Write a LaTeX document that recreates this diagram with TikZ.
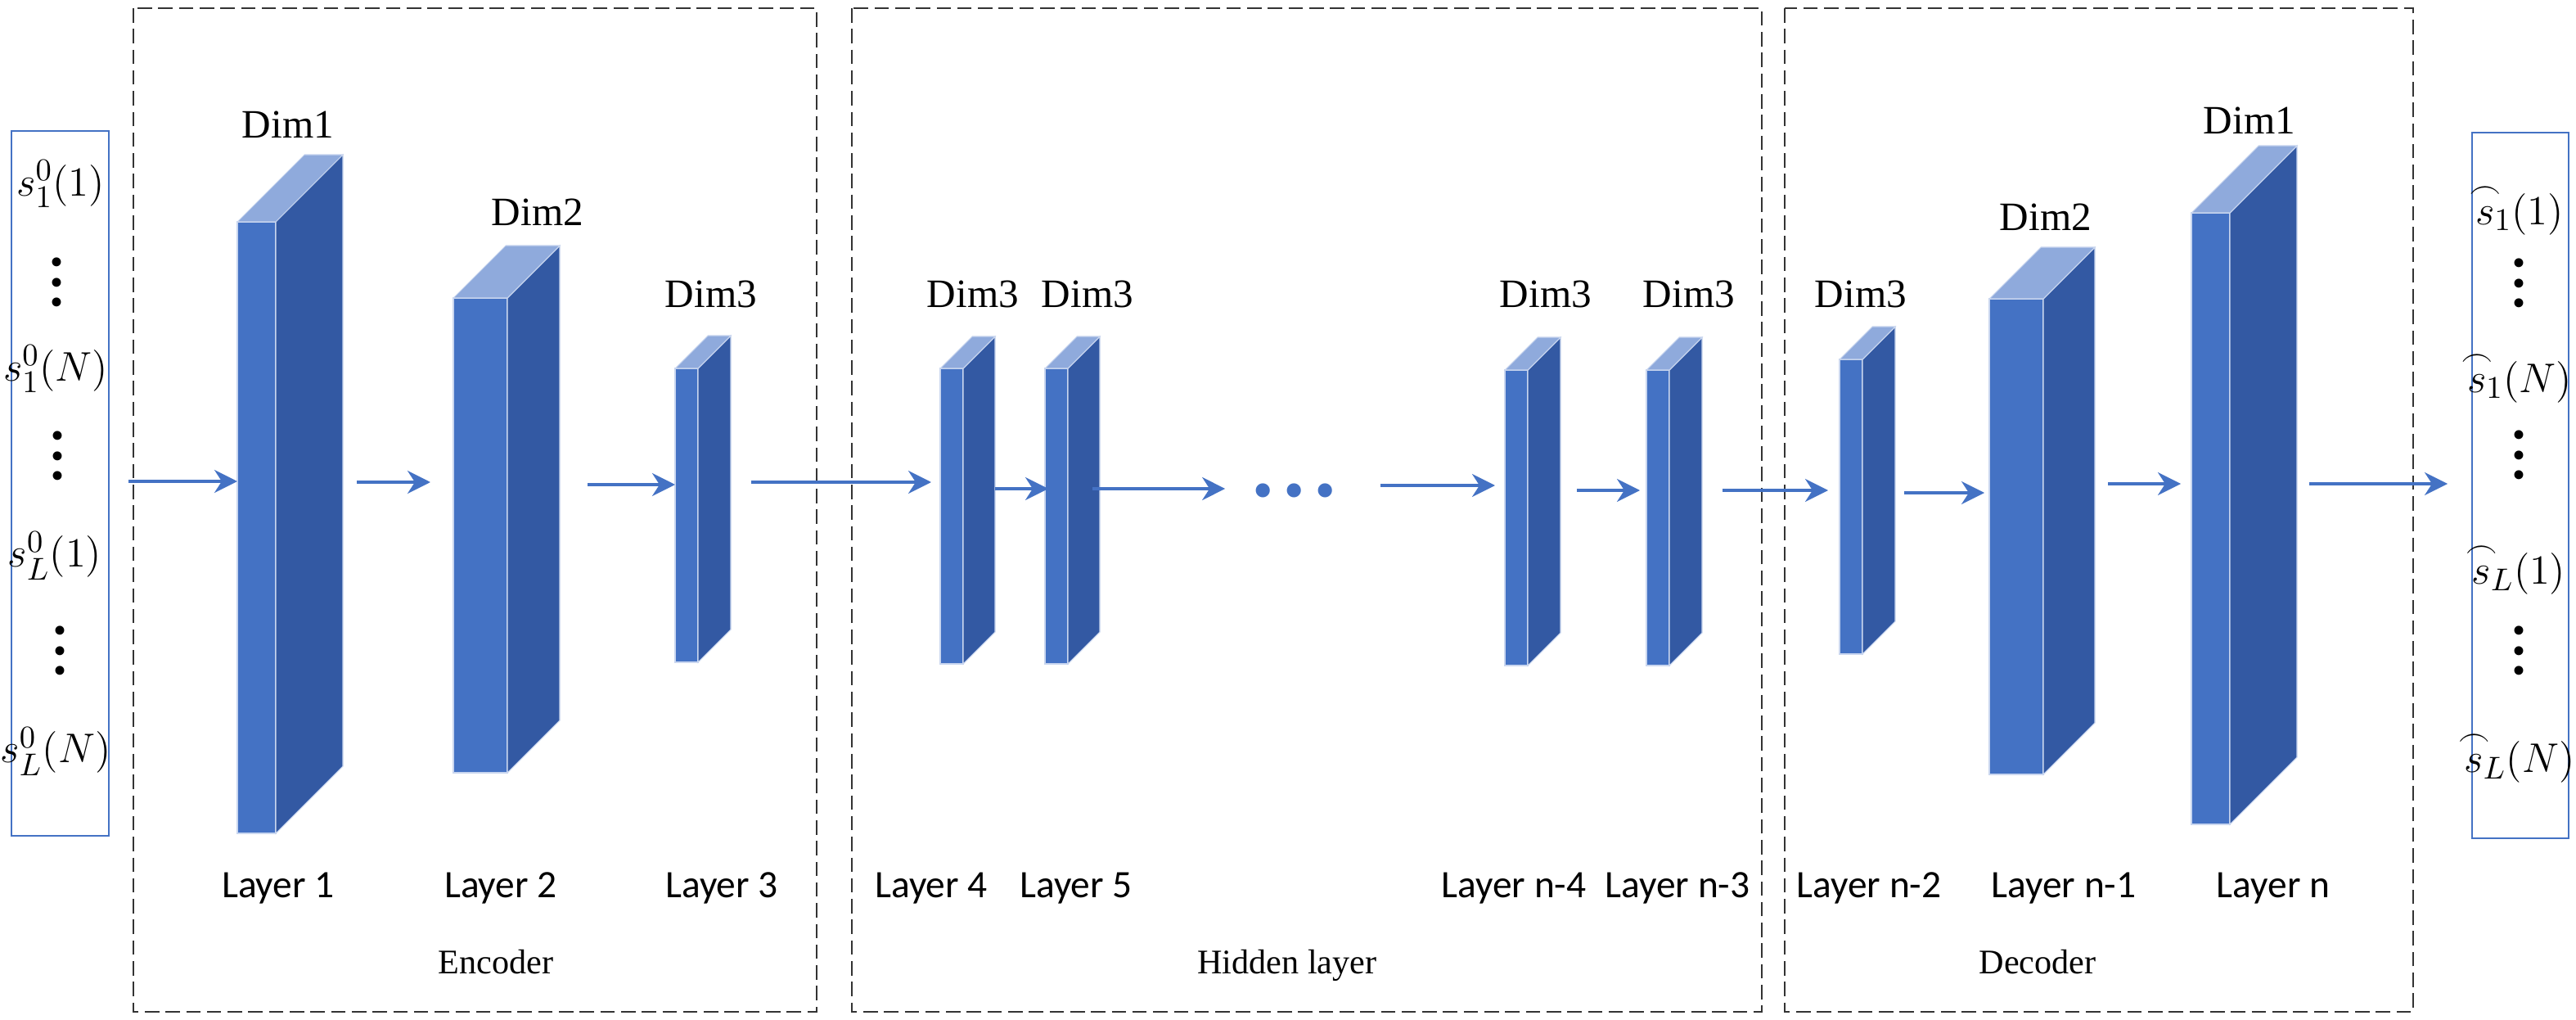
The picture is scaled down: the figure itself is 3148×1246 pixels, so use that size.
\documentclass[tikz,border=0pt]{standalone}
\usepackage{amsmath,mathtools}
\usepackage{fontspec}
\setmainfont{Liberation Serif}
\newfontfamily\labelfont{Carlito}
\usetikzlibrary{arrows.meta,positioning,calc}
\definecolor{layerfront}{HTML}{4472C4}
\definecolor{layerside}{HTML}{3359A3}
\definecolor{layertop}{HTML}{8FAADC}
\definecolor{layeredge}{HTML}{C9D6EF}
\definecolor{framegray}{HTML}{333333}
\newcommand{\arcs}{\overset{\mathclap{\frown}}{s}}

\tikzset{
  frontface/.style={draw=layeredge,line width=0.3pt,fill=layerfront,
    inner sep=0pt,outer sep=0pt,anchor=north west},
  sideface/.style={draw=layeredge,line width=0.3pt,fill=layerside},
  topface/.style={draw=layeredge,line width=0.3pt,fill=layertop},
  flow/.style={layerfront,line width=1pt,
    -{Stealth[length=2.8mm,width=2.8mm,inset=0.9mm]}},
  stage/.style={draw=framegray,line width=0.6pt,dash pattern=on 5pt off 2.2pt},
  vecbox/.style={draw=layerfront,line width=0.5pt,inner sep=0pt,anchor=north west},
  dimlabel/.style={font=\fontsize{14}{16}\selectfont},
  layerlabel/.style={font=\labelfont\fontsize{13.5}{16}\selectfont},
  stagelabel/.style={font=\fontsize{12}{14}\selectfont,anchor=base},
  vecentry/.style={font=\fontsize{15}{18}\selectfont},
  vdotsym/.style={font=\fontsize{13}{7}\selectfont,align=center,inner sep=0pt},
  gapdots/.style={font=\fontsize{30}{30}\selectfont\bfseries,text=layerfront,inner sep=0pt},
}

\begin{document}
\begin{tikzpicture}[x=0.1mm,y=-0.1mm]
  \useasboundingbox (0,0) rectangle (3148,1246);

  % encoder / hidden / decoder frames
  \draw[stage] (163,10) rectangle (998,1236);
  \draw[stage] (1041,10) rectangle (2153,1236);
  \draw[stage] (2181,10) rectangle (2949,1236);
  \node[stagelabel] (enc) at (606,1189) {Encoder};
  \node[stagelabel] (hid) at (1573,1189) {Hidden layer};
  \node[stagelabel] (dec) at (2490,1189) {Decoder};

  % input vector
  \node[vecbox,minimum width=11.9mm,minimum height=86.1mm] (inbox) at (13,159) {};
  \node[vecentry] (in1) at (74,225) {$s_1^0(1)$};
  \node[vdotsym] (ind1) at (69,350) {\textbullet\\\textbullet\\\textbullet};
  \node[vecentry] (in2) at (68,451) {$s_1^0(N)$};
  \node[vdotsym] (ind2) at (70,562) {\textbullet\\\textbullet\\\textbullet};
  \node[vecentry] (in3) at (67,679) {$s_L^0(1)$};
  \node[vdotsym] (ind3) at (73,800) {\textbullet\\\textbullet\\\textbullet};
  \node[vecentry] (in4) at (68,918) {$s_L^0(N)$};

  % output vector
  \node[vecbox,minimum width=11.8mm,minimum height=86.2mm] (outbox) at (3020,161) {};
  \node[vecentry] (out1) at (3079,255) {${\arcs}_1(1)$};
  \node[vdotsym] (outd1) at (3078,351) {\textbullet\\\textbullet\\\textbullet};
  \node[vecentry] (out2) at (3079,460) {${\arcs}_1(N)$};
  \node[vdotsym] (outd2) at (3078,561) {\textbullet\\\textbullet\\\textbullet};
  \node[vecentry] (out3) at (3078,694) {${\arcs}_L(1)$};
  \node[vdotsym] (outd3) at (3078,800) {\textbullet\\\textbullet\\\textbullet};
  \node[vecentry] (out4) at (3079,924) {${\arcs}_L(N)$};

  % layer blocks
  \foreach \name/\x/\top/\bot/\w/\d in {L1/290/271/1018/47/82, L2/554/364/944/66/64,
      L3/825/450/809/28/40, L4/1149/450/811/28/39, L5/1277/450/811/28/39,
      Ln4/1839/452/813/28/40, Ln3/2012/452/813/28/40, Ln2/2248/439/799/28/40,
      Ln1/2431/365/946/66/63, Ln/2678/260/1007/47/82}{
    \node[frontface,minimum width=\w*0.1mm,minimum height={(\bot-\top)*0.1mm}]
      (\name) at (\x,\top) {};
    \filldraw[sideface] (\name.north east) -- ++(\d,-\d)
      -- ([shift={(\d,-\d)}]\name.south east) -- (\name.south east) -- cycle;
    \filldraw[topface] (\name.north west) -- ++(\d,-\d)
      -- ([shift={(\d,-\d)}]\name.north east) -- (\name.north east) -- cycle;
  }

  \foreach \name/\txt/\lx/\ly in {L1/Dim1/352/152, L2/Dim2/657/259, L3/Dim3/869/359,
      L4/Dim3/1189/359, L5/Dim3/1329/359, Ln4/Dim3/1889/359, Ln3/Dim3/2064/359,
      Ln2/Dim3/2274/359, Ln1/Dim2/2500/265, Ln/Dim1/2749/147}
    \node[dimlabel] (dim\name) at (\lx,\ly) {\txt};

  \foreach \name/\txt/\lx in {L1/Layer 1/340, L2/Layer 2/612, L3/Layer 3/882,
      L4/Layer 4/1138, L5/Layer 5/1315, Ln4/Layer n-4/1850, Ln3/Layer n-3/2050,
      Ln2/Layer n-2/2284, Ln1/Layer n-1/2522, Ln/Layer n/2778}
    \node[layerlabel] (lab\name) at (\lx,1085) {\txt};

  \node[gapdots] (dots) at (1582,599) {.\hspace{3.3pt}.\hspace{3.3pt}.};

  % connectors
  \foreach \s/\t/\y/\ga/\gb in {inbox/L1/588/2.3/0, L1/L2/589/9.9/2.8, L2/L3/592/9.8/0,
      L3/L4/589/6.5/1.1, L4/L5/597/3.9/-0.4, L5/dots/597/3.0/3.3, dots/Ln4/593/5.3/1.2,
      Ln4/Ln3/599/6.0/0.8, Ln3/Ln2/599/6.5/1.4, Ln2/Ln1/602/5.1/0.6,
      Ln1/Ln/591/7.9/1.3, Ln/outbox/591/9.7/2.9}
    \draw[flow,shorten <=\ga mm,shorten >=\gb mm] (\s.east |- 0,\y) -- (\t.west |- 0,\y);
\end{tikzpicture}
\end{document}
